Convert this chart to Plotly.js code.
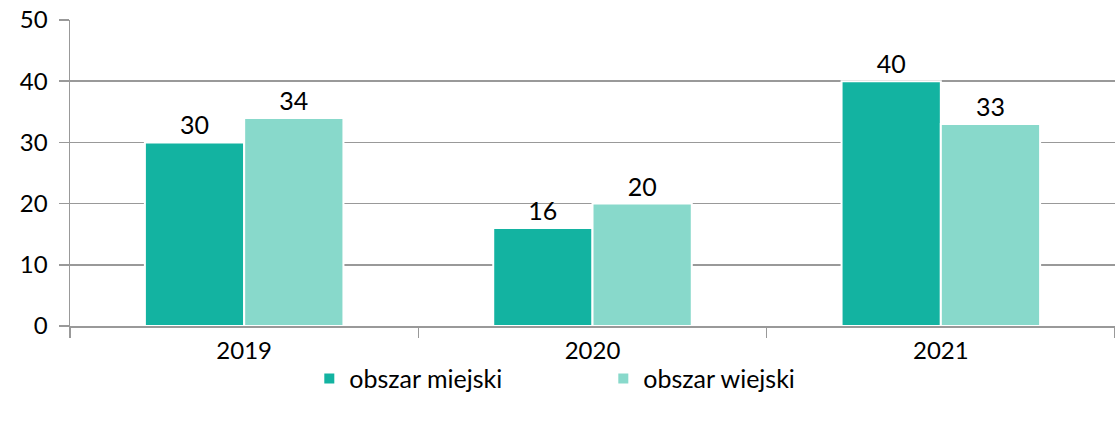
<!DOCTYPE html>
<html>
<head>
<meta charset="utf-8">
<script src="https://cdn.plot.ly/plotly-3.0.1.min.js"></script>
<style>html,body{margin:0;padding:0;background:#fff;}#chart{width:1115px;height:424px;}</style>
</head>
<body>
<div id="chart"></div>
<script>
const years = ['2019', '2020', '2021'];
const miejski = [30, 16, 40];
const wiejski = [34, 20, 33];
const seriesNames = ['obszar miejski', 'obszar wiejski'];
const yTicks = [0, 10, 20, 30, 40, 50];

const font = "Lato, 'Open Sans', sans-serif";
const traces = [
  {type: 'bar', x: years, y: miejski, name: seriesNames[0],
   marker: {color: '#13B3A1', line: {color: '#ffffff', width: 2}},
   text: miejski.map(String), textposition: 'outside', cliponaxis: false,
   textfont: {family: font, size: 25, color: '#000'}},
  {type: 'bar', x: years, y: wiejski, name: seriesNames[1],
   marker: {color: '#88D9CB', line: {color: '#ffffff', width: 2}},
   text: wiejski.map(String), textposition: 'outside', cliponaxis: false,
   textfont: {family: font, size: 25, color: '#000'}}
];
const layout = {
  width: 1115, height: 424,
  margin: {l: 70, r: 0, t: 20, b: 98},
  paper_bgcolor: '#fff', plot_bgcolor: '#fff',
  barmode: 'group', bargap: 0.43, bargroupgap: 0,
  font: {family: font, size: 24, color: '#000'},
  showlegend: true,
  legend: {orientation: 'h', x: 0.229, xanchor: 'left', y: -0.172, yanchor: 'middle',
           bgcolor: 'rgba(0,0,0,0)',
           font: {family: font, size: 25, color: '#000'}, entrywidth: 249, itemwidth: 30},
  xaxis: {type: 'category', showgrid: false, showline: true, linecolor: '#999', linewidth: 1.5,
          ticks: 'outside', tickson: 'boundaries', ticklen: 10, tickcolor: '#999', tickwidth: 1.5,
          tickfont: {family: font, size: 24, color: '#000'}, ticklabelstandoff: 3, fixedrange: true},
  yaxis: {range: [0, 50], tickvals: yTicks, showgrid: true, gridcolor: '#999', gridwidth: 1.5,
          showline: true, linecolor: '#999', linewidth: 1.5, zeroline: false,
          ticks: 'outside', ticklen: 10, tickcolor: '#999', tickwidth: 1.5,
          tickfont: {family: font, size: 24, color: '#000'}, ticklabelstandoff: 6}
};
Plotly.newPlot('chart', traces, layout, {displayModeBar: false, staticPlot: true});
</script>
</body>
</html>
